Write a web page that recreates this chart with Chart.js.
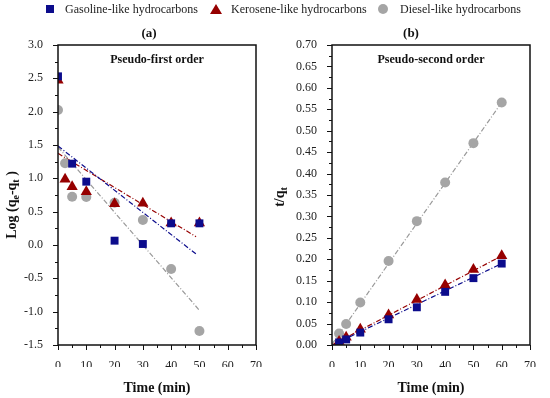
<!DOCTYPE html>
<html>
<head>
<meta charset="utf-8">
<script src="https://cdn.jsdelivr.net/npm/chart.js@4.4.1/dist/chart.umd.min.js"></script>
<style>
    body { margin: 0; background: #fff; }
    #wrap { position: relative; width: 550px; height: 398px; font-family: 'Liberation Serif', serif; color: #222; }
    #wrap canvas { position: absolute; top: 0; }
    #chartA { left: 0; }
    #chartB { left: 270px; }
    .lg { position: absolute; top: 1px; font-size: 12px; line-height: 16px; }
    .sym { position: absolute; }
</style>
</head>
<body>
<div id="wrap">
    <canvas id="chartA" width="280" height="398"></canvas>
    <canvas id="chartB" width="280" height="398"></canvas>
    <div class="sym" style="left:46px;top:5px;width:8px;height:8px;background:#0c0c8c"></div>
    <div class="lg" style="left:65px">Gasoline-like hydrocarbons</div>
    <div class="sym" style="left:210px;top:4px;width:0;height:0;border-left:6px solid transparent;border-right:6px solid transparent;border-bottom:10px solid #960000"></div>
    <div class="lg" style="left:231px">Kerosene-like hydrocarbons</div>
    <div class="sym" style="left:378px;top:4px;width:10px;height:10px;border-radius:50%;background:#a5a5a5"></div>
    <div class="lg" style="left:400px">Diesel-like hydrocarbons</div>
</div>
<script>
// Pseudo-first order (a)
const timeA = [0, 2.5, 5, 10, 20, 30, 40, 50];
const gasolineA = [2.53, null, 1.22, 0.95, 0.065, 0.015, 0.325, 0.325];
const keroseneA = [2.47, 0.985, 0.875, 0.80, 0.62, 0.625, 0.33, 0.33];
const dieselA = [2.025, 1.225, 0.725, 0.72, 0.635, 0.375, -0.36, -1.29];
const fitTimeA = [0, 48.8];
const gasolineFitA = [1.485, -0.135];
const keroseneFitA = [1.375, 0.125];
const dieselFitTimeA = [0, 50.2];
const dieselFitA = [1.47, -0.99];

// Pseudo-second order (b)
const timeB = [2.5, 5, 10, 20, 30, 40, 50, 60];
const gasolineB = [0.006, 0.013, 0.029, 0.060, 0.088, 0.124, 0.156, 0.190];
const keroseneB = [0.008, 0.018, 0.037, 0.070, 0.106, 0.140, 0.176, 0.208];
const dieselB = [0.027, 0.049, 0.099, 0.196, 0.289, 0.379, 0.471, 0.566];
const fitTimeB = [0, 60];
const gasolineFitB = [-0.001, 0.190];
const keroseneFitB = [0.000, 0.208];
const dieselFitB = [0.002, 0.566];

const NAVY = '#0c0c8c';
const RED = '#960000';
const GRAY = '#a5a5a5';
const FONT = "'Liberation Serif', serif";

const toXY = (xs, ys) => xs.map((x, i) => ({ x: x, y: ys[i] })).filter(p => p.y !== null);

const pointSet = (label, xs, ys, color, style, r) => ({
    label: label,
    data: toXY(xs, ys),
    showLine: false,
    pointStyle: style,
    pointRadius: r,
    pointBackgroundColor: color,
    pointBorderColor: color,
    pointBorderWidth: 0
});

const fitSet = (xs, ys, color) => ({
    data: toXY(xs, ys),
    showLine: true,
    borderColor: color,
    borderWidth: 1.2,
    borderDash: [5, 2, 1, 2],
    pointRadius: 0,
    fill: false
});

// frame, minor/major ticks and the titles
const decor = {
    id: 'decor',
    afterDraw(chart, args, o) {
        const ctx = chart.ctx;
        const a = chart.chartArea;
        const xs = chart.scales.x, ys = chart.scales.y;
        ctx.save();
        ctx.strokeStyle = '#111';
        ctx.lineWidth = 1;
        const nx = Math.round((xs.max - xs.min) / o.xMinor);
        for (let i = 0; i <= nx; i++) {
            const px = Math.round(xs.getPixelForValue(xs.min + i * o.xMinor)) + 0.5;
            const len = i % 2 === 0 ? 5 : 3;
            ctx.beginPath();
            ctx.moveTo(px, a.bottom);
            ctx.lineTo(px, a.bottom + len);
            ctx.stroke();
        }
        const ny = Math.round((ys.max - ys.min) / o.yMinor);
        for (let i = 0; i <= ny; i++) {
            const py = Math.round(ys.getPixelForValue(ys.min + i * o.yMinor)) + 0.5;
            const len = i % 2 === 0 ? 5 : 3;
            ctx.beginPath();
            ctx.moveTo(a.left - len, py);
            ctx.lineTo(a.left, py);
            ctx.stroke();
        }
        ctx.lineWidth = 1.5;
        ctx.strokeRect(a.left, a.top, a.right - a.left, a.bottom - a.top);

        ctx.fillStyle = '#111';
        ctx.textAlign = 'center';
        ctx.textBaseline = 'middle';
        ctx.font = 'bold 13px ' + FONT;
        ctx.fillText(o.panel, o.panelX, 34);
        ctx.font = 'bold 12px ' + FONT;
        ctx.fillText(o.inner, (a.left + a.right) / 2, 60);
        ctx.font = 'bold 14px ' + FONT;
        ctx.fillText('Time (min)', (a.left + a.right) / 2, 388);

        // rotated y title with subscripts
        ctx.translate(o.yTitleX, o.yTitleY);
        ctx.rotate(-Math.PI / 2);
        const parts = o.yTitle;
        let total = 0;
        parts.forEach(p => {
            ctx.font = (p.sub ? 'bold 10px ' : 'bold 14px ') + FONT;
            total += ctx.measureText(p.t).width;
        });
        let x = -total / 2;
        ctx.textAlign = 'left';
        parts.forEach(p => {
            ctx.font = (p.sub ? 'bold 10px ' : 'bold 14px ') + FONT;
            ctx.fillText(p.t, x, p.sub ? 4 : 0);
            x += ctx.measureText(p.t).width;
        });
        ctx.restore();
    }
};

const makePanel = (id, datasets, cfg) => new Chart(document.getElementById(id), {
    type: 'scatter',
    data: { datasets: datasets },
    options: {
        responsive: false,
        animation: false,
        devicePixelRatio: 1,
        layout: { padding: cfg.padding },
        plugins: {
            legend: { display: false },
            tooltip: { enabled: false },
            decor: cfg.decor
        },
        scales: {
            x: {
                type: 'linear',
                min: 0,
                max: 70,
                afterFit: s => { s.height = 22; },
                grid: { display: false },
                border: { display: false },
                ticks: { stepSize: 10, autoSkip: false, maxRotation: 0, padding: 6, color: '#222', font: { family: FONT, size: 12 } }
            },
            y: {
                min: cfg.yMin,
                max: cfg.yMax,
                afterFit: s => { s.width = 40; },
                grid: { display: false },
                border: { display: false },
                ticks: {
                    stepSize: cfg.yStep,
                    autoSkip: false,
                    padding: 7,
                    color: '#222',
                    font: { family: FONT, size: 12 },
                    callback: v => v.toFixed(cfg.dec)
                }
            }
        }
    },
    plugins: [decor]
});

makePanel('chartA', [
    pointSet('Gasoline-like hydrocarbons', timeA, gasolineA, NAVY, 'rect', 5.6),
    pointSet('Kerosene-like hydrocarbons', timeA, keroseneA, RED, 'triangle', 6.5),
    pointSet('Diesel-like hydrocarbons', timeA, dieselA, GRAY, 'circle', 5),
    fitSet(fitTimeA, gasolineFitA, NAVY),
    fitSet(fitTimeA, keroseneFitA, RED),
    fitSet(dieselFitTimeA, dieselFitA, '#999')
], {
    padding: { left: 18, top: 45, right: 24, bottom: 31 },
    yMin: -1.5, yMax: 3.0, yStep: 0.5, dec: 1,
    decor: {
        panel: '(a)', panelX: 149, inner: 'Pseudo-first order',
        xMinor: 5, yMinor: 0.25,
        yTitleX: 12, yTitleY: 205,
        yTitle: [{ t: 'Log (q' }, { t: 'e', sub: true }, { t: '-q' }, { t: 't', sub: true }, { t: ' )' }]
    }
});

makePanel('chartB', [
    pointSet('Gasoline-like hydrocarbons', timeB, gasolineB, NAVY, 'rect', 5.6),
    pointSet('Kerosene-like hydrocarbons', timeB, keroseneB, RED, 'triangle', 6.5),
    pointSet('Diesel-like hydrocarbons', timeB, dieselB, GRAY, 'circle', 5),
    fitSet(fitTimeB, gasolineFitB, NAVY),
    fitSet(fitTimeB, keroseneFitB, RED),
    fitSet(fitTimeB, dieselFitB, '#999')
], {
    padding: { left: 22, top: 45, right: 20, bottom: 31 },
    yMin: 0, yMax: 0.7, yStep: 0.05, dec: 2,
    decor: {
        panel: '(b)', panelX: 141, inner: 'Pseudo-second order',
        xMinor: 5, yMinor: 0.025,
        yTitleX: 10, yTitleY: 197,
        yTitle: [{ t: 't/q' }, { t: 't', sub: true }]
    }
});
</script>
</body>
</html>
